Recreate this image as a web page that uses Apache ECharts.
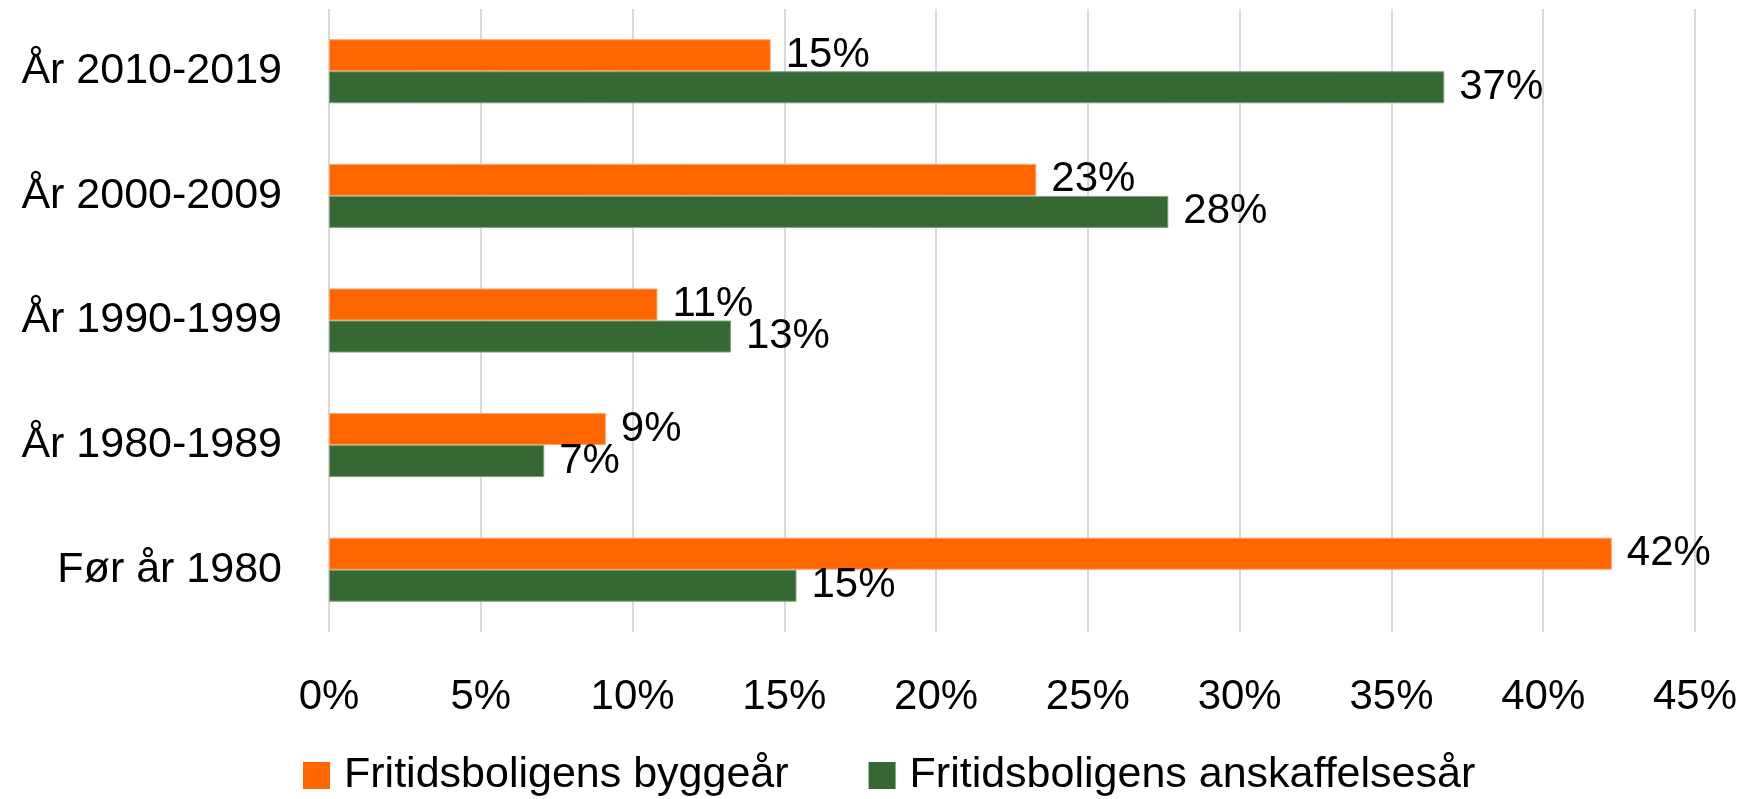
<!DOCTYPE html>
<html>
<head>
<meta charset="utf-8">
<script src="https://cdn.jsdelivr.net/npm/echarts@6/dist/echarts.min.js"></script>
<style>
  html, body { margin: 0; padding: 0; background: #fff; }
  #chart { width: 1762px; height: 799px; }
</style>
</head>
<body>
<div id="chart"></div>
<script>
const categories = ["År 2010-2019", "År 2000-2009", "År 1990-1999", "År 1980-1989", "Før år 1980"];
const byggeaar = [14.55, 23.3, 10.82, 9.12, 42.26];
const anskaffelsesaar = [36.74, 27.65, 13.24, 7.09, 15.4];
const seriesNames = ["Fritidsboligens byggeår", "Fritidsboligens anskaffelsesår"];

const FONT = "'Liberation Sans', Arial, sans-serif";
const chart = echarts.init(document.getElementById("chart"));

const barLabel = {
  show: true,
  position: "right",
  distance: 15,
  color: "#000",
  fontFamily: FONT,
  fontSize: 42,
  formatter: (p) => `${Math.round(p.value)}%`,
};

chart.setOption({
  animation: false,
  textStyle: { fontFamily: FONT },
  grid: { top: 9, bottom: 167, left: 329, right: 67 },
  legend: {
    bottom: -3,
    left: 298,
    icon: "rect",
    itemWidth: 27,
    itemHeight: 27,
    itemGap: 80,
    itemStyle: { borderWidth: 0 },
    textStyle: { fontSize: 43, color: "#000", fontFamily: FONT, padding: [0, 0, 0, 9] },
    data: seriesNames,
  },
  xAxis: {
    type: "value",
    min: 0,
    max: 45,
    interval: 5,
    axisLine: { show: false },
    axisTick: { show: false },
    splitLine: { lineStyle: { color: "#d9d9d9", width: 2 } },
    axisLabel: {
      margin: 44,
      fontSize: 42,
      color: "#000",
      fontFamily: FONT,
      formatter: (v) => `${v}%`,
    },
  },
  yAxis: {
    type: "category",
    inverse: true,
    data: categories,
    axisLine: { show: false },
    axisTick: { show: false },
    axisLabel: { margin: 47, fontSize: 43, color: "#000", fontFamily: FONT },
  },
  series: [
    {
      name: seriesNames[0],
      type: "bar",
      data: byggeaar,
      barWidth: 32,
      barGap: "0%",
      itemStyle: { color: "#ff6600", borderColor: "#ffa366", borderWidth: 1 },
      label: barLabel,
    },
    {
      name: seriesNames[1],
      type: "bar",
      data: anskaffelsesaar,
      barWidth: 32,
      barGap: "0%",
      itemStyle: { color: "#366834", borderColor: "#7ea07c", borderWidth: 1 },
      label: barLabel,
    },
  ],
});
</script>
</body>
</html>
